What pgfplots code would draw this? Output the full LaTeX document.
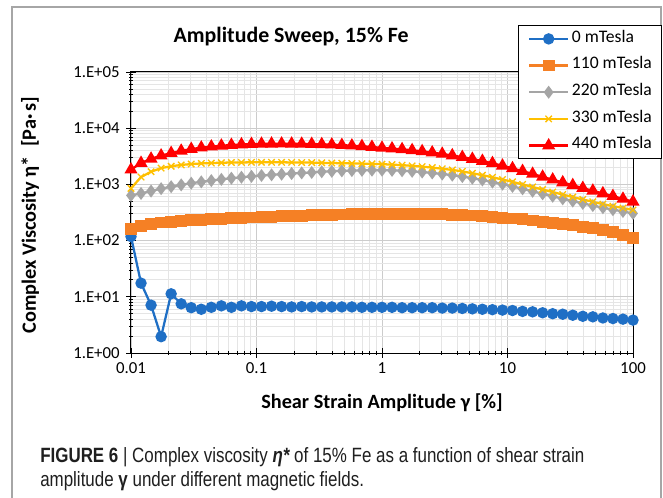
\documentclass[border=0pt]{standalone}
\usepackage{fontspec}
\setmainfont{Carlito}
\newfontfamily\capfont[FakeStretch=0.82]{Liberation Sans}
\usepackage{pgfplots}
\usepackage{pgfplotstable}
\pgfplotsset{compat=1.18}
\definecolor{cblue}{HTML}{1F6FC5}
\definecolor{corange}{HTML}{F58025}
\definecolor{cgray}{HTML}{A5A5A5}
\definecolor{cyellow}{HTML}{FFC000}
\definecolor{cred}{HTML}{FF0000}
\pgfplotstableread{
x b o g y r
0.01 118 160 637 850 1830
0.01202 17.5 185 690 1350 2400
0.01445 7.1 200 760 1680 2850
0.01738 1.95 210 840 1950 3250
0.02089 11.3 218 910 2100 3600
0.02512 7.5 225 980 2220 3950
0.0302 6.4 231 1050 2300 4250
0.03631 6.0 236 1110 2360 4500
0.04365 6.5 241 1170 2400 4700
0.05248 6.9 246 1230 2430 4880
0.0631 6.5 250 1290 2450 5020
0.07586 6.9 254 1340 2460 5130
0.0912 6.7 258 1390 2470 5210
0.1096 6.7 262 1440 2470 5260
0.1318 6.8 266 1480 2470 5290
0.1585 6.7 270 1520 2470 5300
0.1905 6.6 274 1560 2460 5290
0.2291 6.7 278 1600 2450 5260
0.2754 6.6 281 1630 2440 5220
0.3311 6.6 285 1680 2420 5160
0.3981 6.6 288 1710 2400 5090
0.4786 6.6 291 1740 2380 5000
0.5754 6.6 294 1760 2360 4890
0.6918 6.5 297 1780 2340 4770
0.8318 6.5 299 1790 2320 4630
1 6.5 301 1790 2290 4470
1.202 6.5 302 1780 2250 4345
1.445 6.4 302 1750 2200 4207
1.738 6.4 301 1710 2140 4046
2.089 6.4 299 1660 2070 3873
2.512 6.4 297 1600 1990 3681
3.02 6.3 294 1530 1900 3483
3.631 6.3 290 1460 1810 3273
4.365 6.2 285 1380 1700 3055
5.248 6.1 279 1290 1580 2831
6.31 6.0 272 1200 1460 2606
7.586 5.9 264 1100 1340 2377
9.12 5.8 256 1010 1220 2148
10.96 5.7 247 920 1110 1928
13.18 5.5 238 835 1000 1722
15.85 5.4 228 755 900 1535
19.05 5.2 218 680 810 1361
22.91 5.0 208 615 730 1213
27.54 4.9 197 555 660 1081
33.11 4.7 187 505 595 964
39.81 4.5 176 460 540 859
47.86 4.4 165 420 490 769
57.54 4.2 153 385 445 689
69.18 4.1 142 355 410 617
83.18 4.0 128 330 380 552
100 3.85 112 305 350 492
}\datatable
\begin{document}
\begin{tikzpicture}
\path[use as bounding box] (0,0) rectangle (497.25pt,-373.5pt);
\fill[white] (0,0) rectangle (497.25pt,-373.5pt);
\draw[color=black!35, line width=1.1pt] (9pt,-374pt) -- (9pt,-5.25pt) -- (495.75pt,-5.25pt) -- (495.75pt,-374pt);
\begin{axis}[
  at={(98.25pt,-264.75pt)}, anchor=south west,
  scale only axis, width=376.5pt, height=210.75pt,
  xmode=log, ymode=log,
  xmin=0.01, xmax=100, ymin=1, ymax=100000,
  xtick={0.01,0.1,1,10,100}, xticklabels={0.01,0.1,1,10,100},
  ytick={1,10,100,1000,10000,100000},
  yticklabels={1.E+00,1.E+01,1.E+02,1.E+03,1.E+04,1.E+05},
  xtick pos=left, ytick pos=left,
  grid=both,
  major grid style={color=black!20, line width=0.6pt},
  minor grid style={color=black!10, line width=0.6pt},
  tick align=center, major tick length=7pt, minor tick length=3pt,
  tick style={black, line width=0.6pt},
  axis line style={black, line width=0.75pt},
  ticklabel style={font=\fontsize{12.6}{14}\selectfont, color=black},
  yticklabel style={xshift=-1.5pt},
  xticklabel style={yshift=-0.5pt},
  xlabel={Shear Strain Amplitude γ [\%]},
  ylabel={Complex Viscosity η*\ \ [Pa·\,s]},
  label style={font=\fontsize{15.2}{18}\selectfont\bfseries},
  xlabel style={at={(axis description cs:0.5,-0.178)}, anchor=center},
  ylabel style={at={(axis description cs:-0.201,0.491)}, anchor=center},
  title={Amplitude Sweep, 15\% Fe},
  title style={font=\fontsize{16.4}{19}\selectfont\bfseries, at={(axis description cs:0.319,1.078)}, anchor=base},
  legend cell align=left,
  legend image code/.code={\draw[mark repeat=2,mark phase=2,#1] plot coordinates {(0pt,0pt) (14.625pt,0pt) (29.25pt,0pt)};},
  legend style={at={(axis description cs:0.770,1.167)}, anchor=north west,
    draw=black, line width=0.75pt, fill=white,
    font=\fontsize{13.2}{14}\selectfont,
    inner xsep=7.5pt, inner ysep=0pt, row sep=0pt,
    nodes={inner sep=0pt, text height=12.5pt, text depth=7.5pt},
    /tikz/every odd column/.append style={column sep=2pt}},
]
\addplot[color=cblue, line width=1.7pt, mark=*, mark size=3.4pt, mark options={solid, fill=cblue, draw=cblue}] table[x=x, y=b] {\datatable};
\addlegendentry{0 mTesla}
\addplot[color=corange, line width=1.7pt, mark=square*, mark size=3.6pt, mark options={solid, fill=corange, draw=corange}] table[x=x, y=o] {\datatable};
\addlegendentry{110 mTesla}
\addplot[color=cgray, line width=1.7pt, mark=diamond*, mark size=3.5pt, mark options={solid, fill=cgray, draw=cgray}] table[x=x, y=g] {\datatable};
\addlegendentry{220 mTesla}
\addplot[color=cyellow, line width=1.7pt, mark=x, mark size=3.4pt, mark options={solid, line width=1pt}] table[x=x, y=y] {\datatable};
\addlegendentry{330 mTesla}
\addplot[color=cred, line width=1.7pt, mark=triangle*, mark size=4pt, mark options={solid, fill=cred, draw=cred}] table[x=x, y=r] {\datatable};
\addlegendentry{440 mTesla}
\end{axis}
\node[anchor=base west, inner sep=0pt, font=\capfont\fontsize{15.5}{18}\selectfont, color=black!88] at (30pt,-346.5pt) {\textbf{FIGURE 6} | Complex viscosity {\bfseries\itshape η*} of 15\% Fe as a function of shear strain};
\node[anchor=base west, inner sep=0pt, font=\capfont\fontsize{15.5}{18}\selectfont, color=black!88] at (30pt,-364.5pt) {amplitude \textbf{γ} under different magnetic fields.};
\end{tikzpicture}
\end{document}
